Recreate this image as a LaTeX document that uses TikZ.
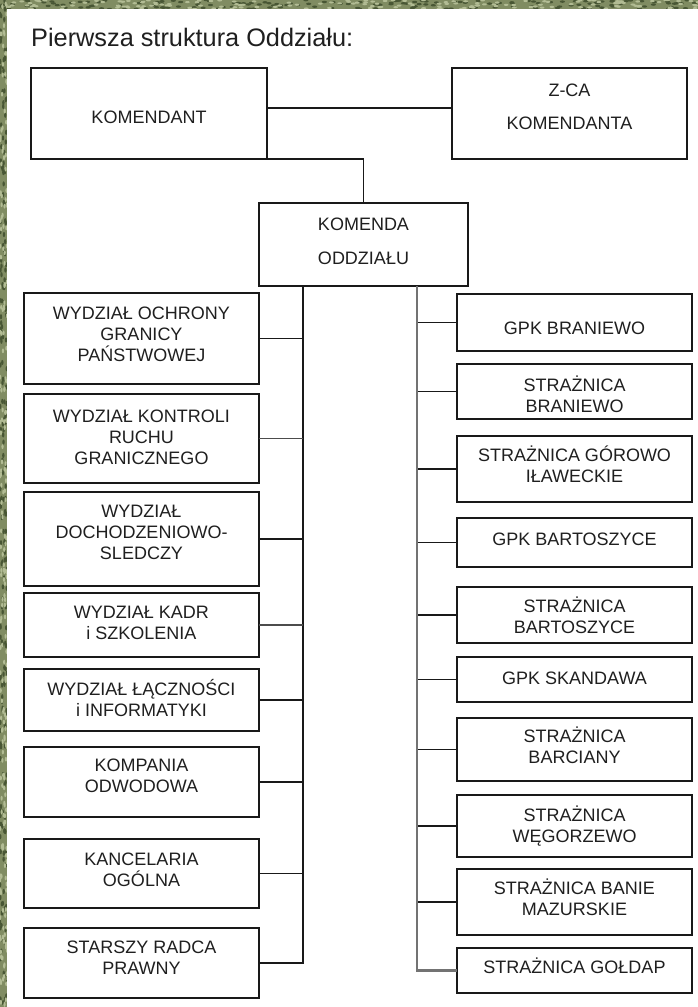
\documentclass[tikz,border=0pt]{standalone}
\usepackage{fontspec}
\setmainfont{Liberation Sans}
\newcommand\bt[5]{\parbox[c][#1pt][t]{#2pt}{\fontsize{18}{#4}\selectfont\centering\rule{0pt}{#3pt}#5\par}}
\definecolor{camo}{RGB}{128,140,98}
\definecolor{camodk}{RGB}{72,86,52}
\definecolor{camolt}{RGB}{178,188,148}
\begin{document}
\begin{tikzpicture}[x=1pt,y=-1pt,
  bx/.style={draw=black!90, line width=1.6pt, inner sep=0pt, outer sep=0pt, anchor=north west, text=black!88, fill=white},
  conn/.style={draw=black!90, line width=1.5pt},
  conng/.style={draw=black!70, line width=1.9pt},
  trunkg/.style={draw=black!55, line width=2.2pt}]
\useasboundingbox (0,0) rectangle (698,1007);
% textured frame
\begin{scope}
\clip (0,0) rectangle (698,9) (0,0) rectangle (7,1007);
\fill[camo] (0,0) rectangle (698,1007);
\pgfmathsetseed{12}
\foreach \i in {1,...,170}{\fill[camodk] ({rnd*698},{rnd*9}) ellipse (2.6 and 1.2);}
\foreach \i in {1,...,170}{\fill[camolt] ({rnd*698},{rnd*9}) ellipse (2.4 and 1.1);}
\foreach \i in {1,...,220}{\fill[camodk] ({rnd*7},{rnd*1007}) ellipse (1.2 and 2.6);}
\foreach \i in {1,...,220}{\fill[camolt] ({rnd*7},{rnd*1007}) ellipse (1.1 and 2.4);}
\end{scope}
\fill[white] (7,9) rectangle (698,1007);
% title
\node[anchor=base west, inner sep=0pt, text=black!88, font=\fontsize{25.3}{29}\selectfont] (title) at (31,46) {Pierwsza struktura Oddziału:};
% top boxes
\node[bx] (kmd) at (31,68) {\bt{91}{236}{55.5}{33}{KOMENDANT}};
\node[bx] (zca) at (452,68) {\bt{91}{235}{28.5}{33}{Z-CA\\KOMENDANTA}};
\node[bx] (kom) at (259,203) {\bt{83}{209}{27.5}{34}{KOMENDA\\ODDZIAŁU}};
% left column
\node[bx] (l1) at (24,293) {\bt{91}{235}{26.5}{21}{WYDZIAŁ OCHRONY\\GRANICY\\PAŃSTWOWEJ}};
\node[bx] (l2) at (24,394) {\bt{89}{235}{28.5}{21}{WYDZIAŁ KONTROLI\\RUCHU\\GRANICZNEGO}};
\node[bx] (l3) at (24,492) {\bt{94}{235}{25.5}{21}{WYDZIAŁ\\DOCHODZENIOWO-\\SLEDCZY}};
\node[bx] (l4) at (24,593) {\bt{64}{235}{25.5}{21}{WYDZIAŁ KADR\\i SZKOLENIA}};
\node[bx] (l5) at (24,669) {\bt{62}{235}{26.5}{21}{WYDZIAŁ ŁĄCZNOŚCI\\i INFORMATYKI}};
\node[bx] (l6) at (24,747) {\bt{70}{235}{24.5}{21}{KOMPANIA\\ODWODOWA}};
\node[bx] (l7) at (24,839) {\bt{69}{235}{26.5}{21}{KANCELARIA\\OGÓLNA}};
\node[bx] (l8) at (24,928) {\bt{70}{235}{25.5}{21}{STARSZY RADCA\\PRAWNY}};
% right column
\node[bx] (r1) at (457,294) {\bt{57}{235}{40.5}{21}{GPK BRANIEWO}};
\node[bx] (r2) at (457,364) {\bt{55}{235}{27.5}{21}{STRAŻNICA\\BRANIEWO}};
\node[bx] (r3) at (457,436) {\bt{66}{235}{25.5}{21}{STRAŻNICA GÓROWO\\IŁAWECKIE}};
\node[bx] (r4) at (457,518) {\bt{49}{235}{27.5}{21}{GPK BARTOSZYCE}};
\node[bx] (r5) at (457,587) {\bt{56}{235}{25.5}{21}{STRAŻNICA\\BARTOSZYCE}};
\node[bx] (r6) at (457,657) {\bt{45}{235}{27.5}{21}{GPK SKANDAWA}};
\node[bx] (r7) at (457,718) {\bt{63}{235}{24.5}{21}{STRAŻNICA\\BARCIANY}};
\node[bx] (r8) at (457,795) {\bt{62}{235}{26.5}{21}{STRAŻNICA\\WĘGORZEWO}};
\node[bx] (r9) at (457,869) {\bt{66}{235}{25.5}{21}{STRAŻNICA BANIE\\MAZURSKIE}};
\node[bx] (r10) at (457,948) {\bt{45}{235}{25.5}{21}{STRAŻNICA GOŁDAP}};
% connectors
\draw[conn] ([yshift=5.5pt]kmd.east) -- ([yshift=5.5pt]zca.west);
\draw[conn] (kmd.south east) -| (kom.north);
\coordinate (tl) at ([xshift=-60.5pt]kom.south);
\coordinate (tr) at ([xshift=53.5pt]kom.south);
\draw[conn] (tl) |- (l8.east);
\foreach \n in {l1,l3,l5,l6,l7}{\draw[conn] (\n.east) -- (\n.east -| tl);}
\foreach \n in {l2,l4}{\draw[conng] (\n.east) -- (\n.east -| tl);}
\foreach \n in {r1,r2,r3,r4,r5,r6,r7,r8,r9}{\draw[conn] (\n.west) -- (\n.west -| tr);}
\draw[trunkg] (tr) |- (r10.west);
\end{tikzpicture}
\end{document}
